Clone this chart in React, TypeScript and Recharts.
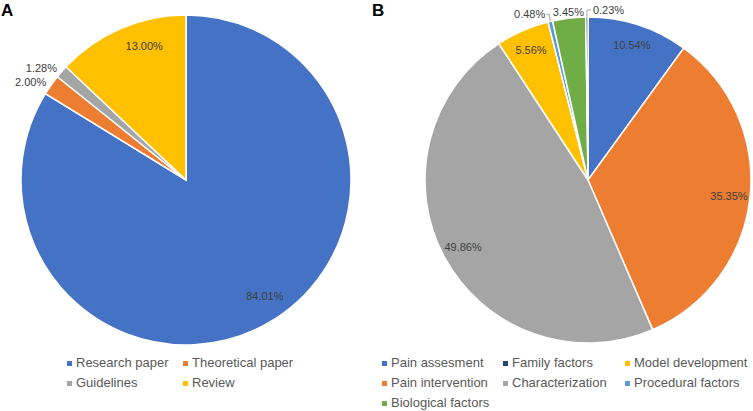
import React from "react";
import { PieChart, Pie, Cell } from "recharts";

// Panel A - publication types
const categoriesA = ["Research paper", "Theoretical paper", "Guidelines", "Review"];
const valuesA = [84.01, 2.0, 1.28, 13.0];
const colorsA = ["#4472C4", "#ED7D31", "#A5A5A5", "#FFC000"];

// Panel B - research topics (pie order, clockwise from top)
const categoriesB = [
  "Pain assesment",
  "Pain intervention",
  "Characterization",
  "Model development",
  "Procedural factors",
  "Biological factors",
  "Family factors",
];
const valuesB = [10.54, 35.35, 49.86, 5.56, 0.48, 3.45, 0.23];
const colorsB = ["#4472C4", "#ED7D31", "#A5A5A5", "#FFC000", "#5B9BD5", "#70AD47", "#264478"];

// legend order as shown under panel B
const legendOrderB = [
  "Pain assesment",
  "Family factors",
  "Model development",
  "Pain intervention",
  "Characterization",
  "Procedural factors",
  "Biological factors",
];

const dataA = categoriesA.map((name, i) => ({ name, value: valuesA[i] }));
const dataB = categoriesB.map((name, i) => ({ name, value: valuesB[i] }));

const RAD = Math.PI / 180;
const LABEL_COLOR = "#404040";
const FONT = "'Liberation Sans', Arial, sans-serif";

type Mode = "in" | "out" | "leftLeader" | "rightLeader";

function makeLabel(modes: Mode[], nudges: number[], ratio: number) {
  return (props: any) => {
    const { cx, cy, midAngle, outerRadius, value, index } = props;
    const mode = modes[index];
    // clockwise angle from 12 o'clock
    const theta = (90 - midAngle + (nudges[index] || 0)) * RAD;
    const at = (r: number) => ({ x: cx + r * Math.sin(theta), y: cy - r * Math.cos(theta) });
    const text = `${Number(value).toFixed(2)}%`;
    const common = {
      fill: LABEL_COLOR,
      fontSize: 11,
      fontFamily: FONT,
      dominantBaseline: "central" as const,
    };

    if (mode === "in") {
      const p = at(outerRadius * ratio);
      return (
        <text x={p.x} y={p.y} textAnchor="middle" {...common}>
          {text}
        </text>
      );
    }
    if (mode === "out") {
      const p = at(outerRadius + 6);
      const s = Math.sin(theta);
      const anchor = Math.abs(s) < 0.3 ? "middle" : s < 0 ? "end" : "start";
      return (
        <text x={p.x} y={p.y} textAnchor={anchor} {...common}>
          {text}
        </text>
      );
    }
    const e = at(outerRadius);
    const ey = e.y - 7;
    if (mode === "rightLeader") {
      return (
        <g>
          <polyline
            points={`${e.x},${e.y} ${e.x},${ey} ${e.x + 4},${ey}`}
            fill="none"
            stroke="#A6A6A6"
            strokeWidth={1}
          />
          <text x={e.x + 6} y={ey} textAnchor="start" {...common}>
            {text}
          </text>
        </g>
      );
    }
    return (
      <g>
        <polyline
          points={`${e.x},${e.y} ${e.x - 1},${ey} ${e.x - 4},${ey}`}
          fill="none"
          stroke="#A6A6A6"
          strokeWidth={1}
        />
        <text x={e.x - 5} y={ey} textAnchor="end" {...common}>
          {text}
        </text>
      </g>
    );
  };
}

const labelA = makeLabel(["in", "out", "out", "in"], [-5, 0, 0, 6], 0.85);
const labelB = makeLabel(
  ["in", "in", "in", "in", "leftLeader", "out", "rightLeader"],
  [0, 0, 0, 0, 0, 0, 0],
  0.87
);

function LegendGrid({
  names,
  colorOf,
  columns,
  left,
  top,
}: {
  names: string[];
  colorOf: (n: string) => string;
  columns: number[];
  left: number;
  top: number;
}) {
  return (
    <div style={{ position: "absolute", left, top }}>
      {names.map((n, i) => {
        const col = i % columns.length;
        const row = Math.floor(i / columns.length);
        return (
          <div
            key={n}
            style={{
              position: "absolute",
              left: columns[col],
              top: row * 20,
              whiteSpace: "nowrap",
              fontFamily: FONT,
              fontSize: 13,
              lineHeight: "20px",
              color: "#595959",
              display: "flex",
              alignItems: "center",
            }}
          >
            <span
              style={{
                display: "inline-block",
                width: 5,
                height: 5,
                background: colorOf(n),
                marginRight: 4,
              }}
            />
            {n}
          </div>
        );
      })}
    </div>
  );
}

export default function App() {
  const zero = { top: 0, right: 0, bottom: 0, left: 0 };
  return (
    <div
      style={{
        position: "absolute",
        left: 0,
        top: 0,
        width: 753,
        height: 411,
        background: "#fff",
        overflow: "hidden",
      }}
    >
      <div style={{ position: "absolute", left: 0, top: 0 }}>
        <PieChart width={376} height={350} margin={zero}>
          <Pie
            data={dataA}
            dataKey="value"
            nameKey="name"
            cx={186}
            cy={180}
            outerRadius={165}
            startAngle={90}
            endAngle={-270}
            stroke="#fff"
            strokeWidth={1.5}
            label={labelA}
            labelLine={false}
            isAnimationActive={false}
          >
            {dataA.map((d, i) => (
              <Cell key={d.name} fill={colorsA[i]} />
            ))}
          </Pie>
        </PieChart>
      </div>
      <div style={{ position: "absolute", left: 376, top: 0 }}>
        <PieChart width={377} height={350} margin={zero}>
          <Pie
            data={dataB}
            dataKey="value"
            nameKey="name"
            cx={212}
            cy={180}
            outerRadius={163}
            startAngle={90}
            endAngle={-270}
            stroke="#fff"
            strokeWidth={1.5}
            label={labelB}
            labelLine={false}
            isAnimationActive={false}
          >
            {dataB.map((d, i) => (
              <Cell key={d.name} fill={colorsB[i]} />
            ))}
          </Pie>
        </PieChart>
      </div>

      <div
        style={{
          position: "absolute",
          left: 1,
          top: 1,
          fontFamily: FONT,
          fontWeight: "bold",
          fontSize: 17,
          lineHeight: "20px",
          color: "#000",
        }}
      >
        A
      </div>
      <div
        style={{
          position: "absolute",
          left: 372,
          top: 1,
          fontFamily: FONT,
          fontWeight: "bold",
          fontSize: 17,
          lineHeight: "20px",
          color: "#000",
        }}
      >
        B
      </div>

      <LegendGrid
        names={categoriesA}
        colorOf={(n) => colorsA[categoriesA.indexOf(n)]}
        columns={[67, 183]}
        left={0}
        top={353}
      />
      <LegendGrid
        names={legendOrderB}
        colorOf={(n) => colorsB[categoriesB.indexOf(n)]}
        columns={[382, 503, 625]}
        left={0}
        top={353}
      />
    </div>
  );
}
